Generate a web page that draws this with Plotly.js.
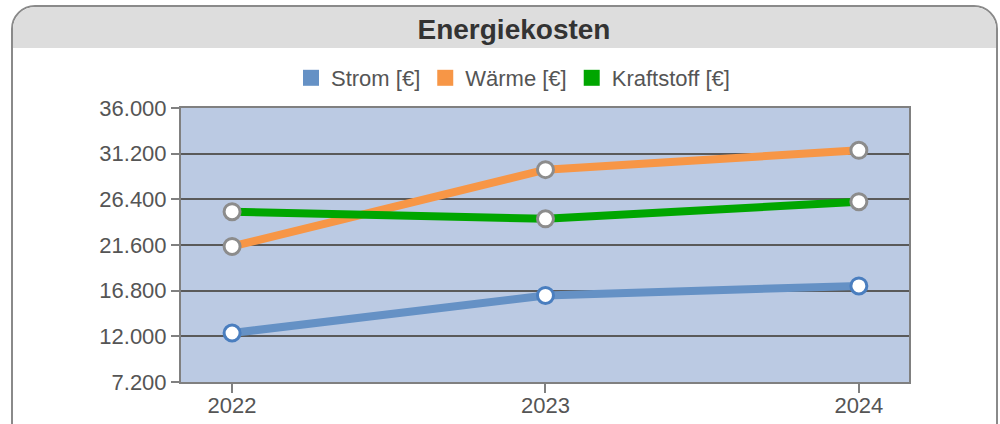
<!DOCTYPE html>
<html>
<head>
<meta charset="utf-8">
<script src="https://cdn.plot.ly/plotly-3.0.1.min.js"></script>
<style>
  body { margin: 0; background: #fff; }
  #card {
    position: absolute; left: 11px; top: 5px; width: 983px; height: 460px;
    border: 2px solid #8a8a8a; border-radius: 24px 24px 0 0;
    background: #fff; overflow: hidden;
  }
  #card .head { height: 41px; background: #dddddd; }
  #plot { position: absolute; left: 0; top: 0; width: 1000px; height: 424px; }
</style>
</head>
<body>
<div id="card"><div class="head"></div></div>
<div id="plot"></div>
<script>
// years on the x axis
const years = ["2022", "2023", "2024"];

// costs per year in euro
const strom = [12350, 16300, 17300];
const waerme = [21450, 29520, 31550];
const kraftstoff = [25100, 24350, 26150];

const seriesNames = ["Strom [€]", "Wärme [€]", "Kraftstoff [€]"];
const seriesColors = ["#6591c5", "#f79646", "#00a600"];
const markerEdge = ["#4a7ebf", "#8c8c8c", "#8c8c8c"];

// y tick labels
const yTicks = [7200, 12000, 16800, 21600, 26400, 31200, 36000];
const yTickText = ["7.200", "12.000", "16.800", "21.600", "26.400", "31.200", "36.000"];

const font = "Liberation Sans, Arial, sans-serif";
const allSeries = [strom, waerme, kraftstoff];

const traces = [];
allSeries.forEach((vals, i) => {
  traces.push({
    x: years,
    y: vals,
    type: "scatter",
    mode: "lines+markers",
    showlegend: false,
    hoverinfo: "skip",
    line: { color: seriesColors[i], width: 8 },
    marker: { size: 16, color: "#ffffff", line: { color: markerEdge[i], width: 3 } },
  });
});
// legend-only entries with square swatches
allSeries.forEach((vals, i) => {
  traces.push({
    x: [null],
    y: [null],
    type: "scatter",
    mode: "markers",
    name: seriesNames[i],
    marker: { symbol: "square", size: 16, color: seriesColors[i] },
  });
});

const layout = {
  width: 1000,
  height: 424,
  margin: { l: 181, r: 91, t: 108, b: 42 },
  paper_bgcolor: "rgba(0,0,0,0)",
  plot_bgcolor: "#bbcae3",
  font: { family: font, size: 22, color: "#555555" },
  title: {
    text: "Energiekosten",
    font: { family: font, size: 28, color: "#333333", weight: "bold" },
    xref: "container", x: 0.514, xanchor: "center",
    yref: "container", y: 1 - 29 / 424, yanchor: "middle",
  },
  legend: {
    orientation: "h",
    xref: "container", x: 0.513, xanchor: "center",
    yref: "container", y: 1 - 78 / 424, yanchor: "middle",
    font: { family: font, size: 22, color: "#555555" },
    bgcolor: "rgba(0,0,0,0)",
  },
  xaxis: {
    type: "category",
    range: [-0.163, 2.16],
    showgrid: false,
    showline: true, linecolor: "#808080", linewidth: 2, mirror: true,
    ticks: "outside", ticklen: 9, tickcolor: "#808080", tickwidth: 2,
    ticklabelstandoff: -6,
    tickfont: { size: 22, color: "#555555" },
    zeroline: false,
    fixedrange: true,
  },
  yaxis: {
    range: [7200, 36000],
    tickvals: yTicks,
    ticktext: yTickText,
    showgrid: true, gridcolor: "#5a5a5a", gridwidth: 2,
    showline: true, linecolor: "#808080", linewidth: 2, mirror: true,
    ticks: "outside", ticklen: 8, tickcolor: "#808080", tickwidth: 2,
    tickfont: { size: 22, color: "#555555" },
    zeroline: false,
    fixedrange: true,
  },
};

Plotly.newPlot("plot", traces, layout, { displayModeBar: false, staticPlot: true });
</script>
</body>
</html>
